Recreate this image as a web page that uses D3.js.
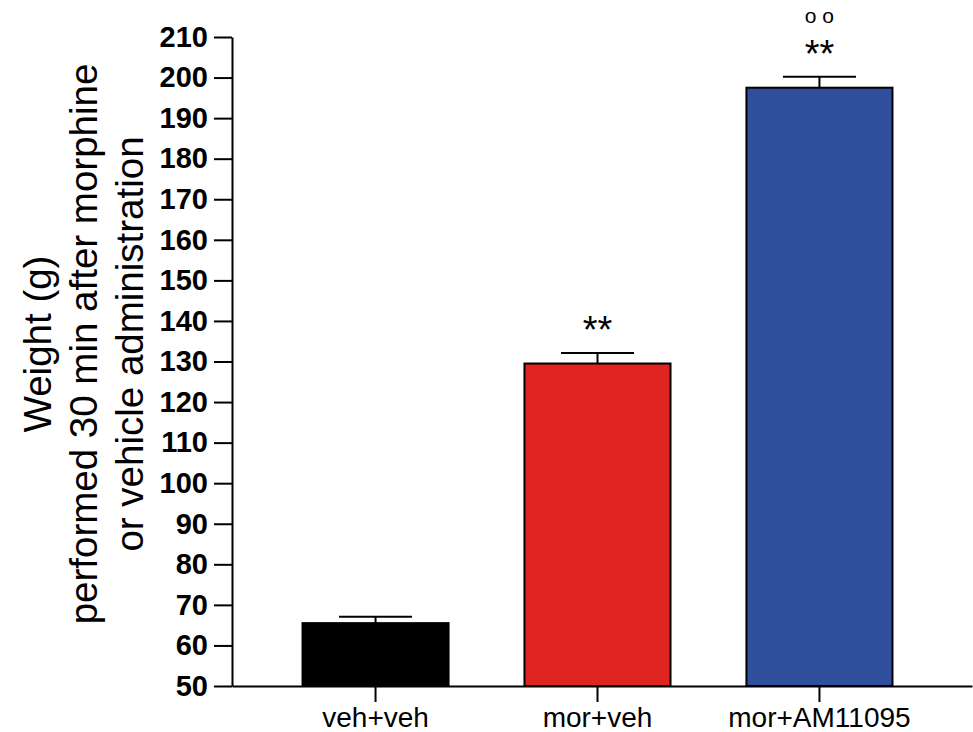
<!DOCTYPE html>
<html>
<head>
<meta charset="utf-8">
<script src="https://cdn.jsdelivr.net/npm/d3@7"></script>
<style>
  body { margin: 0; background: #fff; }
  svg { display: block; font-family: "Liberation Sans", Arial, sans-serif; }
</style>
</head>
<body>
<div id="chart"></div>
<script>
///////////////////////////
// DATA
///////////////////////////

const groups = ['veh+veh', 'mor+veh', 'mor+AM11095'];
const means = [65.5, 129.5, 197.5];
const sems = [1.6, 2.6, 2.7];
const stars = ['', '**', '**'];
const circles = ['', '', 'o o'];
const barColors = ['#000000', '#e0241f', '#2f4f9d'];
const yTicks = d3.range(50, 211, 10);
const yLabelLines = ['Weight (g)', 'performed 30 min after morphine', 'or vehicle administration'];

///////////////////////////
// CHART
///////////////////////////

const width = 973;
const height = 732;
const plotLeft = 232, plotRight = 972, plotTop = 37, plotBottom = 686;

const svg = d3.select('#chart')
    .append('svg')
    .attr('width', width)
    .attr('height', height);

const y = d3.scaleLinear()
    .domain([50, 210])
    .range([plotBottom, plotTop]);

const x = d3.scaleBand()
    .domain(groups)
    .range([plotLeft, plotRight])
    .paddingInner(0.342)
    .paddingOuter(0.338)
    .align(0.47);

const data = groups.map((g, i) => ({
    name: g, mean: means[i], sem: sems[i], color: barColors[i],
    stars: stars[i], circles: circles[i]
}));

// bars
svg.selectAll('.bar')
    .data(data)
    .enter().append('rect')
    .attr('class', 'bar')
    .attr('x', (d) => x(d.name))
    .attr('y', (d) => y(d.mean))
    .attr('width', x.bandwidth())
    .attr('height', (d) => y(50) - y(d.mean))
    .style('fill', (d) => d.color)
    .style('stroke', '#000')
    .style('stroke-width', 2);

// error bars (upper only)
const err = svg.selectAll('.err')
    .data(data)
    .enter().append('g')
    .attr('class', 'err');

err.append('line')
    .attr('x1', (d) => x(d.name) + x.bandwidth() / 2)
    .attr('x2', (d) => x(d.name) + x.bandwidth() / 2)
    .attr('y1', (d) => y(d.mean))
    .attr('y2', (d) => y(d.mean + d.sem))
    .style('stroke', '#000')
    .style('stroke-width', 2);

err.append('line')
    .attr('x1', (d) => x(d.name) + x.bandwidth() / 4)
    .attr('x2', (d) => x(d.name) + x.bandwidth() * 3 / 4)
    .attr('y1', (d) => y(d.mean + d.sem))
    .attr('y2', (d) => y(d.mean + d.sem))
    .style('stroke', '#000')
    .style('stroke-width', 2);

// significance marks
svg.selectAll('.stars')
    .data(data.filter((d) => d.stars))
    .enter().append('text')
    .attr('class', 'stars')
    .attr('x', (d) => x(d.name) + x.bandwidth() / 2)
    .attr('y', (d) => y(d.mean + d.sem) - 10)
    .attr('text-anchor', 'middle')
    .style('font-size', '38px')
    .text((d) => d.stars);

svg.selectAll('.circles')
    .data(data.filter((d) => d.circles))
    .enter().append('text')
    .attr('class', 'circles')
    .attr('x', (d) => x(d.name) + x.bandwidth() / 2)
    .attr('y', (d) => y(d.mean + d.sem) - 54)
    .attr('text-anchor', 'middle')
    .style('font-size', '21px')
    .text((d) => d.circles);

// y axis
const yAxis = svg.append('g')
    .attr('transform', `translate(${plotLeft},0)`)
    .call(d3.axisLeft(y).tickValues(yTicks).tickSize(18).tickSizeOuter(0).tickPadding(6));

yAxis.select('.domain').style('stroke-width', 2);
yAxis.selectAll('.tick line').style('stroke-width', 2);
yAxis.selectAll('.tick text')
    .style('font-size', '29px')
    .style('font-weight', 'bold')
    .style('fill', '#000')
    .style('font-family', '"Liberation Sans", Arial, sans-serif');

// x axis
const xAxis = svg.append('g')
    .attr('transform', `translate(0,${plotBottom})`)
    .call(d3.axisBottom(x).tickSize(16).tickSizeOuter(0).tickPadding(26));

xAxis.select('.domain').style('stroke-width', 2);
xAxis.selectAll('.tick line').style('stroke-width', 2);
xAxis.selectAll('.tick text')
    .attr('dy', '0')
    .attr('y', 41)
    .style('font-size', '28px')
    .style('fill', '#000')
    .style('font-family', '"Liberation Sans", Arial, sans-serif');

// y label
const ylab = svg.append('g')
    .attr('transform', 'translate(0,344) rotate(-90)');

ylab.selectAll('text')
    .data(yLabelLines)
    .enter().append('text')
    .attr('x', 0)
    .attr('y', (d, i) => 38 + i * 46)
    .attr('dy', '0.35em')
    .attr('text-anchor', 'middle')
    .style('font-size', '38.5px')
    .text((d) => d);
</script>
</body>
</html>
